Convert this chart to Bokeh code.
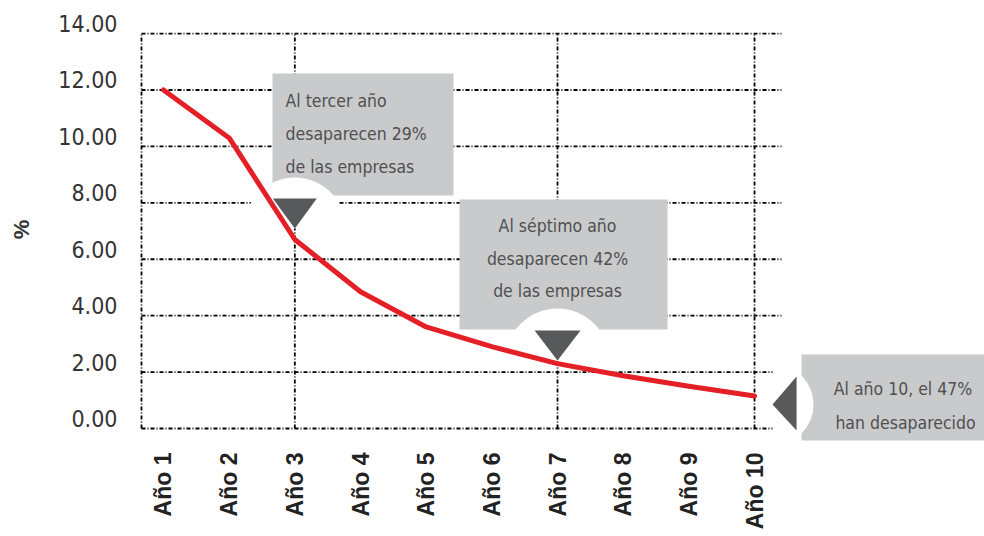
import math
import numpy as np
from bokeh.plotting import figure
from bokeh.models import Range1d, LinearAxis, FixedTicker, NumeralTickFormatter
from bokeh.core.properties import value
from bokeh.embed import file_html
from bokeh.resources import INLINE

# ---------------- data ----------------
years = ["Año 1", "Año 2", "Año 3", "Año 4", "Año 5",
         "Año 6", "Año 7", "Año 8", "Año 9", "Año 10"]
pct = [12.0, 10.3, 6.7, 4.85, 3.6, 2.9, 2.3, 1.87, 1.5, 1.15]
y_ticks = [0, 2, 4, 6, 8, 10, 12, 14]
marked_years = [3, 7, 10]
notes = ["Al tercer año\ndesaparecen 29%\nde las empresas",
         "Al séptimo año\ndesaparecen 42%\nde las empresas",
         "Al año 10, el  47%\nhan desaparecido"]

xs = list(range(1, len(years) + 1))

# ---------------- layout constants ----------------
X0, X1 = 0.589, 13.502
Y0, Y1 = -0.425, 14.534
LABEL_SHIFT = 0.355          # lifts y tick labels above their gridline
GRID_LEFT, GRID_RIGHT = 0.665, 10.41

COND = "DejaVu Sans Condensed"
RED = "#e41f26"
BOX = "#c9cacc"
TRI = "#58595b"
TXT = "#505050"

p = figure(width=984, height=536,
           x_range=Range1d(X0, X1), y_range=Range1d(Y0, Y1),
           output_backend="svg", toolbar_location=None,
           y_axis_location=None,
           min_border_left=136, min_border_right=0,
           min_border_top=18, min_border_bottom=96)
p.grid.visible = False
p.outline_line_color = None
p.background_fill_color = "white"
p.border_fill_color = "white"

# x axis
xa = p.xaxis[0]
xa.ticker = FixedTicker(ticks=xs)
xa.major_label_overrides = {x: lab for x, lab in zip(xs, years)}
xa.axis_line_color = None
xa.major_tick_line_color = None
xa.minor_tick_line_color = None
xa.major_label_orientation = math.pi / 2
xa.major_label_standoff = 6
xa.major_label_text_font = "Liberation Sans"
xa.major_label_text_font_style = "bold"
xa.major_label_text_font_size = "23px"
xa.major_label_text_color = "#222222"

# y axis (on a slightly shifted range so labels sit on top of gridlines)
p.extra_y_ranges = {"lab": Range1d(Y0 - LABEL_SHIFT, Y1 - LABEL_SHIFT)}
ya = LinearAxis(y_range_name="lab",
                ticker=FixedTicker(ticks=y_ticks),
                formatter=NumeralTickFormatter(format="0.00"),
                axis_label="%")
ya.axis_line_color = None
ya.major_tick_line_color = None
ya.minor_tick_line_color = None
ya.major_label_standoff = 13
ya.major_label_text_font = COND
ya.major_label_text_font_size = "23px"
ya.major_label_text_color = "#333333"
ya.axis_label_standoff = 21
ya.axis_label_text_font = "Liberation Sans"
ya.axis_label_text_font_style = "bold"
ya.axis_label_text_font_size = "22px"
ya.axis_label_text_color = "#333333"
p.add_layout(ya, "left")

# gridlines (dash-dot, limited extent)
dash = "4 2 1 2"
p.segment(x0=[GRID_LEFT] * len(y_ticks), x1=[GRID_RIGHT] * len(y_ticks),
          y0=y_ticks, y1=y_ticks, line_color="#000000", line_width=1.8,
          line_dash=dash)
vx = [GRID_LEFT] + marked_years
p.segment(x0=vx, x1=vx, y0=[y_ticks[0]] * len(vx), y1=[y_ticks[-1]] * len(vx),
          line_color="#000000", line_width=1.8, line_dash=dash)

# callout boxes
p.quad(left=[2.660, 5.508, 10.716], right=[5.416, 8.675, 13.7],
       bottom=[8.260, 3.509, -0.922], top=[12.584, 8.118, 2.623],
       fill_color=BOX, line_color=None)

# white bumps around the pointers
p.wedge(x=[3, 7], y=[7.09, 2.41], radius=[51, 52], radius_units="screen",
        start_angle=0, end_angle=np.pi, fill_color="white", line_color=None)
p.wedge(x=[10.274], y=[0.851], radius=[41], radius_units="screen",
        start_angle=-np.pi / 2, end_angle=np.pi / 2,
        fill_color="white", line_color=None)

# the series
p.line(x=xs, y=pct, line_color=RED, line_width=5, line_join="round",
       line_cap="round")

# pointer triangles
p.patches(xs=[[2.665, 3.335, 3.0], [6.650, 7.350, 7.0], [10.640, 10.640, 10.274]],
          ys=[[8.153, 8.153, 7.09], [3.474, 3.474, 2.41], [1.843, -0.071, 0.851]],
          fill_color=TRI, line_color=None)

# callout texts
p.text(x=[2.858], y=[10.457], text=[notes[0]], text_font=value(COND),
       text_font_size="17.5px", text_color=TXT, text_align="left",
       text_baseline="middle", text_line_height=1.65)
p.text(x=[7.0], y=[6.026], text=[notes[1]], text_font=value(COND),
       text_font_size="17.5px", text_color=TXT, text_align="center",
       text_baseline="middle", text_line_height=1.63)
p.text(x=[12.299], y=[0.815], text=[notes[2]], text_font=value(COND),
       text_font_size="17.5px", text_color=TXT, text_align="center",
       text_baseline="middle", text_line_height=1.7)

open("out.html", "w").write(file_html(p, INLINE))
